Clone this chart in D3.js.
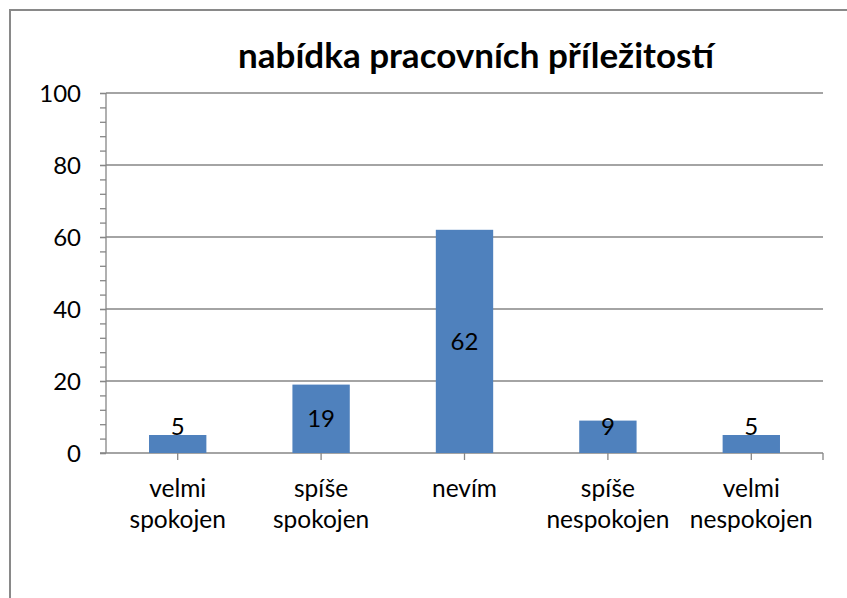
<!DOCTYPE html>
<html>
<head>
<meta charset="utf-8">
<script src="https://cdn.jsdelivr.net/npm/d3@7"></script>
<style>
  body { margin: 0; background: #fff; }
  text { font-family: Lato, "Noto Sans", sans-serif; fill: #000; }
</style>
</head>
<body>
<div id="chart"></div>
<script>
// chart data
var title = "nabídka pracovních příležitostí";
var categories = [["velmi", "spokojen"], ["spíše", "spokojen"], ["nevím"], ["spíše", "nespokojen"], ["velmi", "nespokojen"]];
var values = [5, 19, 62, 9, 5];
var yTicks = [0, 20, 40, 60, 80, 100];

// canvas
var svgWidth = 847, svgHeight = 598;
var margin = {left: 106, right: 24, top: 93, bottom: 145};
var width = svgWidth - margin.left - margin.right,
    height = svgHeight - margin.top - margin.bottom;

var svg = d3.select("#chart").append("svg")
    .attr("width", svgWidth)
    .attr("height", svgHeight);

// outer chart border (runs off the right/bottom edge)
svg.append("rect")
    .attr("x", 10).attr("y", 10)
    .attr("width", 900).attr("height", 700)
    .attr("fill", "none")
    .attr("stroke", "#898989")
    .attr("stroke-width", 2);

svg.append("text")
    .attr("x", 476)
    .attr("y", 68)
    .attr("text-anchor", "middle")
    .style("font-size", "35px")
    .style("font-weight", "bold")
    .text(title);

var g = svg.append("g")
    .attr("transform", `translate(${margin.left}, ${margin.top})`);

// scales
var x = d3.scaleBand()
    .domain(d3.range(values.length))
    .range([0, width])
    .paddingInner(0.6)
    .paddingOuter(0.3);

var y = d3.scaleLinear()
    .domain([0, 100])
    .range([height, 0]);

var gray = "#868686";

// gridlines
g.selectAll(".grid")
    .data(yTicks.slice(1))
    .enter().append("line")
    .attr("x1", 0).attr("x2", width)
    .attr("y1", d => y(d)).attr("y2", d => y(d))
    .attr("stroke", gray)
    .attr("stroke-width", 1.3);

// y axis with minor ticks
var yAxis = g.append("g")
    .call(d3.axisLeft(y).tickValues(d3.range(0, 101, 4).concat(yTicks)).tickSize(6).tickFormat(""));
yAxis.select(".domain").remove();
yAxis.selectAll("line").attr("stroke", gray).attr("stroke-width", 1.3);
g.append("line")
    .attr("x1", 0).attr("x2", 0)
    .attr("y1", 0).attr("y2", height)
    .attr("stroke", gray).attr("stroke-width", 1.3);

g.selectAll(".ylab")
    .data(yTicks)
    .enter().append("text")
    .attr("x", -25)
    .attr("y", d => y(d))
    .attr("dy", "0.36em")
    .attr("text-anchor", "end")
    .style("font-size", "24px")
    .text(d => d);

// x axis
g.append("line")
    .attr("x1", -6).attr("x2", width)
    .attr("y1", height).attr("y2", height)
    .attr("stroke", gray).attr("stroke-width", 1.3);

var centers = values.map((v, i) => x(i) + x.bandwidth() / 2);
g.selectAll(".xtick")
    .data(centers.concat([width]))
    .enter().append("line")
    .attr("x1", d => d).attr("x2", d => d)
    .attr("y1", height).attr("y2", height + 7)
    .attr("stroke", gray).attr("stroke-width", 1.3);

var xlab = g.selectAll(".xlab")
    .data(categories)
    .enter().append("text")
    .attr("text-anchor", "middle")
    .attr("transform", (d, i) => `translate(${centers[i]}, ${height + 44})`)
    .style("font-size", "24.5px");
xlab.selectAll("tspan")
    .data(d => d)
    .enter().append("tspan")
    .attr("x", 0)
    .attr("y", (d, i) => i * 31)
    .text(d => d);

// bars
g.selectAll(".bar")
    .data(values)
    .enter().append("rect")
    .attr("x", (d, i) => x(i))
    .attr("y", d => y(d))
    .attr("width", x.bandwidth())
    .attr("height", d => height - y(d))
    .attr("fill", "#4F81BD");

// value labels, centred in bar but kept clear of the baseline
g.selectAll(".val")
    .data(values)
    .enter().append("text")
    .attr("x", (d, i) => centers[i])
    .attr("y", d => Math.min((y(d) + height) / 2, height - 27))
    .attr("dy", "0.36em")
    .attr("text-anchor", "middle")
    .style("font-size", "24px")
    .text(d => d);
</script>
</body>
</html>
